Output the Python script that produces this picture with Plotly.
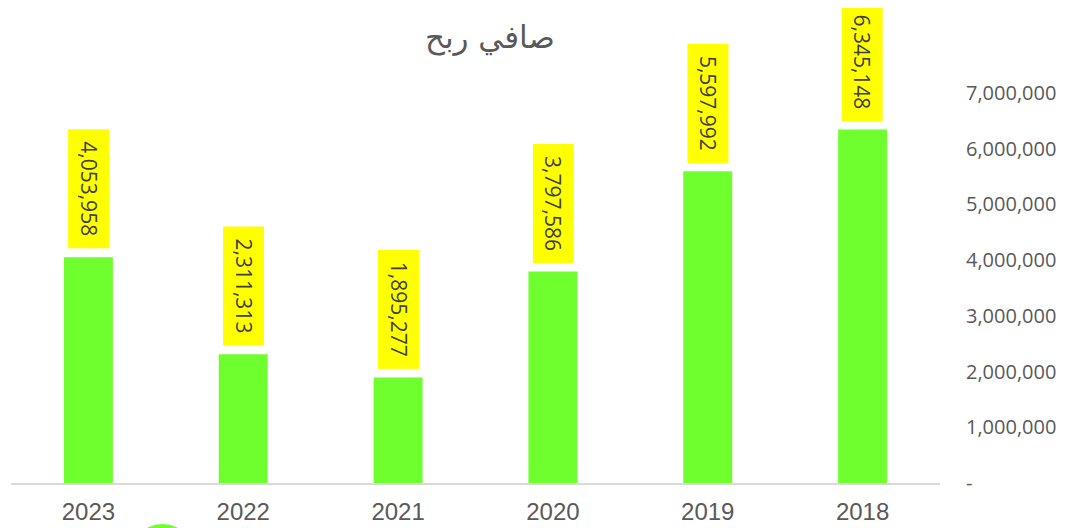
import plotly.graph_objects as go

years = ["2018", "2019", "2020", "2021", "2022", "2023"]
net_profit = [6345148, 5597992, 3797586, 1895277, 2311313, 4053958]
label_text = ["6,345,148", "5,597,992", "3,797,586", "1,895,277", "2,311,313", "4,053,958"]
y_tickvals = [0, 1000000, 2000000, 3000000, 4000000, 5000000, 6000000, 7000000]
y_ticktext = ["-", "1,000,000", "2,000,000", "3,000,000", "4,000,000", "5,000,000", "6,000,000", "7,000,000"]
title_text = "صافي ربح"

BAR = "#70FF2E"
TXT = "#595959"

fig = go.Figure()
fig.add_trace(go.Bar(
    x=years, y=net_profit, marker=dict(color=BAR, line=dict(width=0)),
    width=0.316, hoverinfo="x+y", showlegend=False,
))

# annotations on a category axis are placed by category index
for i, (v, t) in enumerate(zip(net_profit, label_text)):
    fig.add_annotation(
        x=i, y=v, xref="x", yref="y", text=" " + t + " ", showarrow=False,
        textangle=90, yanchor="bottom", xanchor="center", yshift=8,
        bgcolor="#FFFF00", borderpad=6,
        font=dict(family="Open Sans", size=21, color="#404040"),
    )

# partially visible green marker at bottom edge
fig.add_shape(type="circle", xref="paper", yref="paper",
              x0=0.123, x1=0.203, y0=-0.30, y1=-0.097,
              fillcolor=BAR, line=dict(width=0), layer="above")

fig.update_layout(
    width=1066, height=528,
    margin=dict(l=2.5, r=133.5, t=52, b=53, autoexpand=False),
    paper_bgcolor="white", plot_bgcolor="white",
    title=dict(text=title_text, x=0.452, xanchor="center", y=0.945, yanchor="middle",
               font=dict(family="DejaVu Sans", size=31, color=TXT)),
    xaxis=dict(type="category", categoryorder="array", categoryarray=years,
               range=[len(years) - 0.5, -0.5], showgrid=False, showline=True,
               linecolor="#D9D9D9", linewidth=2, ticks="", zeroline=False,
               tickfont=dict(family="Liberation Sans", size=24, color=TXT),
               ticklabelstandoff=6),
    yaxis=dict(side="right", range=[0, 7594000], tickvals=y_tickvals, ticktext=y_ticktext,
               showgrid=False, zeroline=False, showline=False, ticks="",
               tickfont=dict(family="Open Sans", size=20, color=TXT),
               ticklabelstandoff=25),
    bargap=0.684,
)

fig.write_html("out.html")
